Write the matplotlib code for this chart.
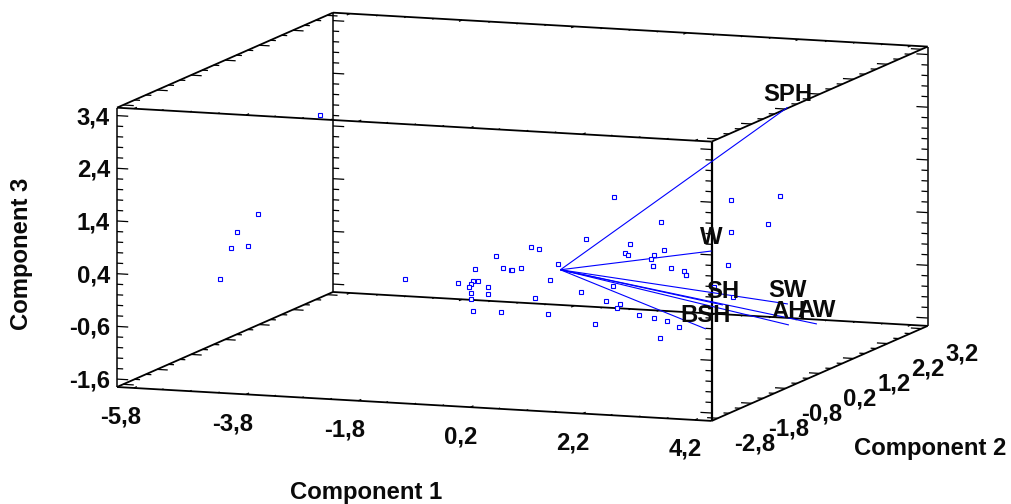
import numpy as np
from matplotlib import pyplot as plt

# component scores (depth cannot be read from the projection, so c2 = 0)
score_c1 = [0.959, 1.797, 0.460, 1.244, -0.520, -0.383, 1.144, 1.198, 1.845, 1.661, 1.613,
            -1.150, -0.039, 1.649, 1.649, 1.964, 2.196, 2.237, 2.237, -1.519, -1.020, -0.888,
            -0.870, -0.699, -1.832, -1.554, -1.471, -1.601, -1.636, -1.287, -0.187, -1.590,
            -1.287, -1.590, -0.455, 0.365, 0.941, -1.554, -1.055, -0.217, 0.816, 1.066, 1.012,
            1.399, 1.661, 1.898, 2.112, 0.615, 1.779, -2.766, 3.045, 3.913, 3.693, 3.045,
            2.991, 3.080, 2.731, -4.282, -6.064, -5.392, -5.766, -5.873, -5.570]
score_c3 = [1.440, 1.010, 0.612, 0.571, 0.395, 0.366, 0.388, 0.354, 0.482, 0.382, 0.309,
            0.192, 0.102, 0.178, 0.167, 0.153, 0.116, 0.043, 0.031, -0.077, -0.028, -0.058,
            -0.057, -0.008, -0.362, -0.307, -0.302, -0.367, -0.420, -0.410, -0.205, -0.543,
            -0.543, -0.651, -0.557, -0.405, -0.245, -0.876, -0.865, -0.846, -0.548, -0.590,
            -0.669, -0.767, -0.819, -0.862, -0.951, -0.991, -1.186, -0.348, 1.515, 1.638,
            1.093, 0.896, 0.267, -0.329, -0.155, 2.677, -0.549, 0.731, 0.367, 0.057, 0.113]
score_c2 = [0.0] * len(score_c1)

# variable vectors
var_names = ['SPH', 'W', 'SH', 'SW', 'AH', 'AW', 'BSH']
var_c1 = [4.050, 2.695, 2.897, 4.055, 4.073, 4.572, 2.594]
var_c2 = [0.0, 0.0, 0.0, 0.0, 0.0, 0.0, 0.0]
var_c3 = [3.329, 0.520, -0.492, -0.403, -0.800, -0.751, -0.966]

# tick labels
c1_ticks = [-5.8, -3.8, -1.8, 0.2, 2.2, 4.2]
c2_ticks = [-2.8, -1.8, -0.8, 0.2, 1.2, 2.2, 3.2]
c3_ticks = [-1.6, -0.6, 0.4, 1.4, 2.4, 3.4]

# limits of the box
c1_lim = (-6.1, 4.5)
c2_lim = (-2.98, 3.38)
c3_lim = (-1.75, 3.55)

blue = '#0000ff'
font = {'family': 'Liberation Sans', 'weight': 'bold', 'color': '#0a0a0a'}
fs = 17.2


#   oblique projection of the three components to the page
def project(c1, c2, c3):
    c1, c2, c3 = np.asarray(c1), np.asarray(c2), np.asarray(c3)
    px = 117 + (c1 - c1_lim[0]) * 56.1 + (c2 - c2_lim[0]) * 33.96
    py = 387 + (c1 - c1_lim[0]) * 3.2 - (c2 - c2_lim[0]) * 14.94 - (c3 - c3_lim[0]) * 52.7
    return px, py


def seg(a, b, lw=1.3, color='black', z=2):
    px, py = project([a[0], b[0]], [a[1], b[1]], [a[2], b[2]])
    ax.plot(px, py, color=color, lw=lw, solid_capstyle='butt', zorder=z)


def label(v):
    return f'{v:.1f}'.replace('.', ',')


fig = plt.figure(figsize=(10.12, 5.04), dpi=100)
ax = fig.add_axes([0, 0, 1, 1])
ax.set_xlim(0, 1012)
ax.set_ylim(504, 0)
ax.axis('off')

x0, x1 = c1_lim
y0, y1 = c2_lim
z0, z1 = c3_lim

#   box edges
for y in (y0, y1):
    for z in (z0, z1):
        seg((x0, y, z), (x1, y, z))
for x in (x0, x1):
    for z in (z0, z1):
        seg((x, y0, z), (x, y1, z))
for x in (x0, x1):
    for y in (y0, y1):
        seg((x, y, z0), (x, y, z1), lw=1.6 if (x == x1 and y == y0) else 1.1)

#   component 1 ticks, tiny bumps along the depth direction
for t in np.arange(-5.8, 4.3, 0.5):
    major = min(abs(t - c) for c in c1_ticks) < 0.01
    d = 0.09 if major else 0.05
    for z in (z0, z1):
        seg((t, y0, z), (t, y0 + d, z), lw=0.9)
        seg((t, y1, z), (t, y1 - d, z), lw=0.9)

#   component 2 ticks, pointing along component 1
for t in np.arange(-2.8, 3.25, 1 / 3):
    major = min(abs(t - c) for c in c2_ticks) < 0.01
    d = 0.19 if major else 0.1
    for z in (z0, z1):
        seg((x0, t, z), (x0 + d, t, z), lw=0.9)
        seg((x1, t, z), (x1 - d, t, z), lw=0.9)

#   component 3 ticks on the four vertical edges
for t in np.arange(-1.6, 3.45, 0.2):
    major = min(abs(t - c) for c in c3_ticks) < 0.01
    d = 0.2 if major else 0.11
    for y in (y0, y1):
        seg((x0, y, t), (x0 + d, y, t), lw=0.9)
        seg((x1, y, t), (x1 - d, y, t), lw=0.9)

#   vectors and scores
for c1, c2, c3 in zip(var_c1, var_c2, var_c3):
    seg((0, 0, 0), (c1, c2, c3), lw=0.8, color=blue, z=3)

sx, sy = project(score_c1, score_c2, score_c3)
pts, = ax.plot(sx, sy, ls='none', marker='s', ms=2.4, mew=0.8, mfc='white', mec=blue, zorder=4)
pts.set_snap(False)

vx, vy = project(var_c1, var_c2, var_c3)
for name, px, py in zip(var_names, vx, vy):
    ax.text(px, py - 13, name, ha='center', va='center', fontsize=fs, zorder=5, **font)

#   tick labels
for t in c1_ticks:
    px, py = project(t, y0, z0)
    ax.text(px + 7, py + 29.5, label(t), ha='right', va='center', fontsize=fs, **font)
for t in c2_ticks:
    px, py = project(x1, t, z0)
    ax.text(px + 57, py + 25.5, label(t), ha='right', va='center', fontsize=fs, **font)
for t in c3_ticks:
    px, py = project(x0, y0, t)
    ax.text(110, py + 2, label(t), ha='right', va='center', fontsize=fs, **font)

#   axis titles
ax.text(366, 492.5, 'Component 1', ha='center', va='center', fontsize=fs, **font)
ax.text(930, 448.5, 'Component 2', ha='center', va='center', fontsize=fs, **font)
ax.text(22, 254, 'Component 3', ha='center', va='center', rotation=90, fontsize=fs, **font)

fig.savefig('out.png', dpi=100)
